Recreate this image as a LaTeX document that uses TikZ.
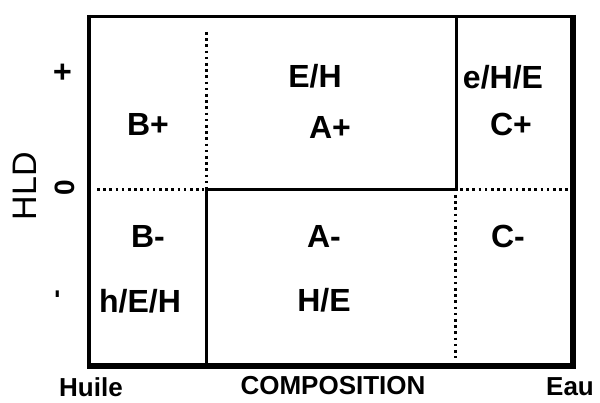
\documentclass[tikz,border=0pt]{standalone}
\usepackage{fontspec}
\setmainfont{Liberation Sans}
\begin{document}
\begin{tikzpicture}[x=1pt,y=-1pt,
  lbl/.style={inner sep=0pt,font=\fontsize{32}{36}\selectfont\bfseries},
  axl/.style={inner sep=0pt,font=\fontsize{26}{28}\selectfont\bfseries},
  dotl/.style={line width=3pt,dash pattern=on 2.6pt off 3.6pt},
  solidl/.style={line width=3pt}]
\useasboundingbox (0,0) rectangle (600,403);
% frame
\draw[line width=3.2pt] (89,16.5) -- (573,16.5);
\draw[line width=3.2pt] (89,15) -- (89,368);
\draw[line width=5.5pt] (573,15) -- (573,368.5);
\draw[line width=5.5pt] (87.4,366) -- (575.75,366);
% internal lines
\draw[dotl] (206,32) -- (206,188);
\draw[solidl] (206,190) -- (206,366);
\draw[dotl] (97,190) -- (204,190);
\draw[solidl] (204.5,190) -- (458,190);
\draw[solidl] (456.5,16) -- (456.5,191.5);
\draw[dotl] (460,190) -- (571,190);
\draw[dotl] (455,195) -- (455,358);
% region labels
\node[lbl] (bp) at (148,124) {B+};
\node[lbl] (eh) at (315,76) {E/H};
\node[lbl] (ap) at (330,127) {A+};
\node[lbl] (ehe) at (503,77) {e/H/E};
\node[lbl] (cp) at (511,124) {C+};
\node[lbl] (bm) at (148,236) {B-};
\node[lbl] (heh) at (140,301) {h/E/H};
\node[lbl] (am) at (324,236) {A-};
\node[lbl] (he) at (324,300) {H/E};
\node[lbl] (cm) at (508,236) {C-};
% axis labels
\node[axl,font=\fontsize{34}{36}\selectfont,rotate=90] (hld) at (25,186) {HLD};
\node[axl,font=\fontsize{32}{36}\selectfont\bfseries,rotate=90] (plus) at (64,72) {+};
\node[axl,font=\fontsize{28}{30}\selectfont\bfseries,rotate=90] (zero) at (65,188) {0};
\node[axl,rotate=90] (minus) at (60,294) {-};
\node[axl] (huile) at (91,387) {Huile};
\node[axl] (comp) at (333,386) {COMPOSITION};
\node[axl] (eau) at (570,387) {Eau};
\end{tikzpicture}
\end{document}
